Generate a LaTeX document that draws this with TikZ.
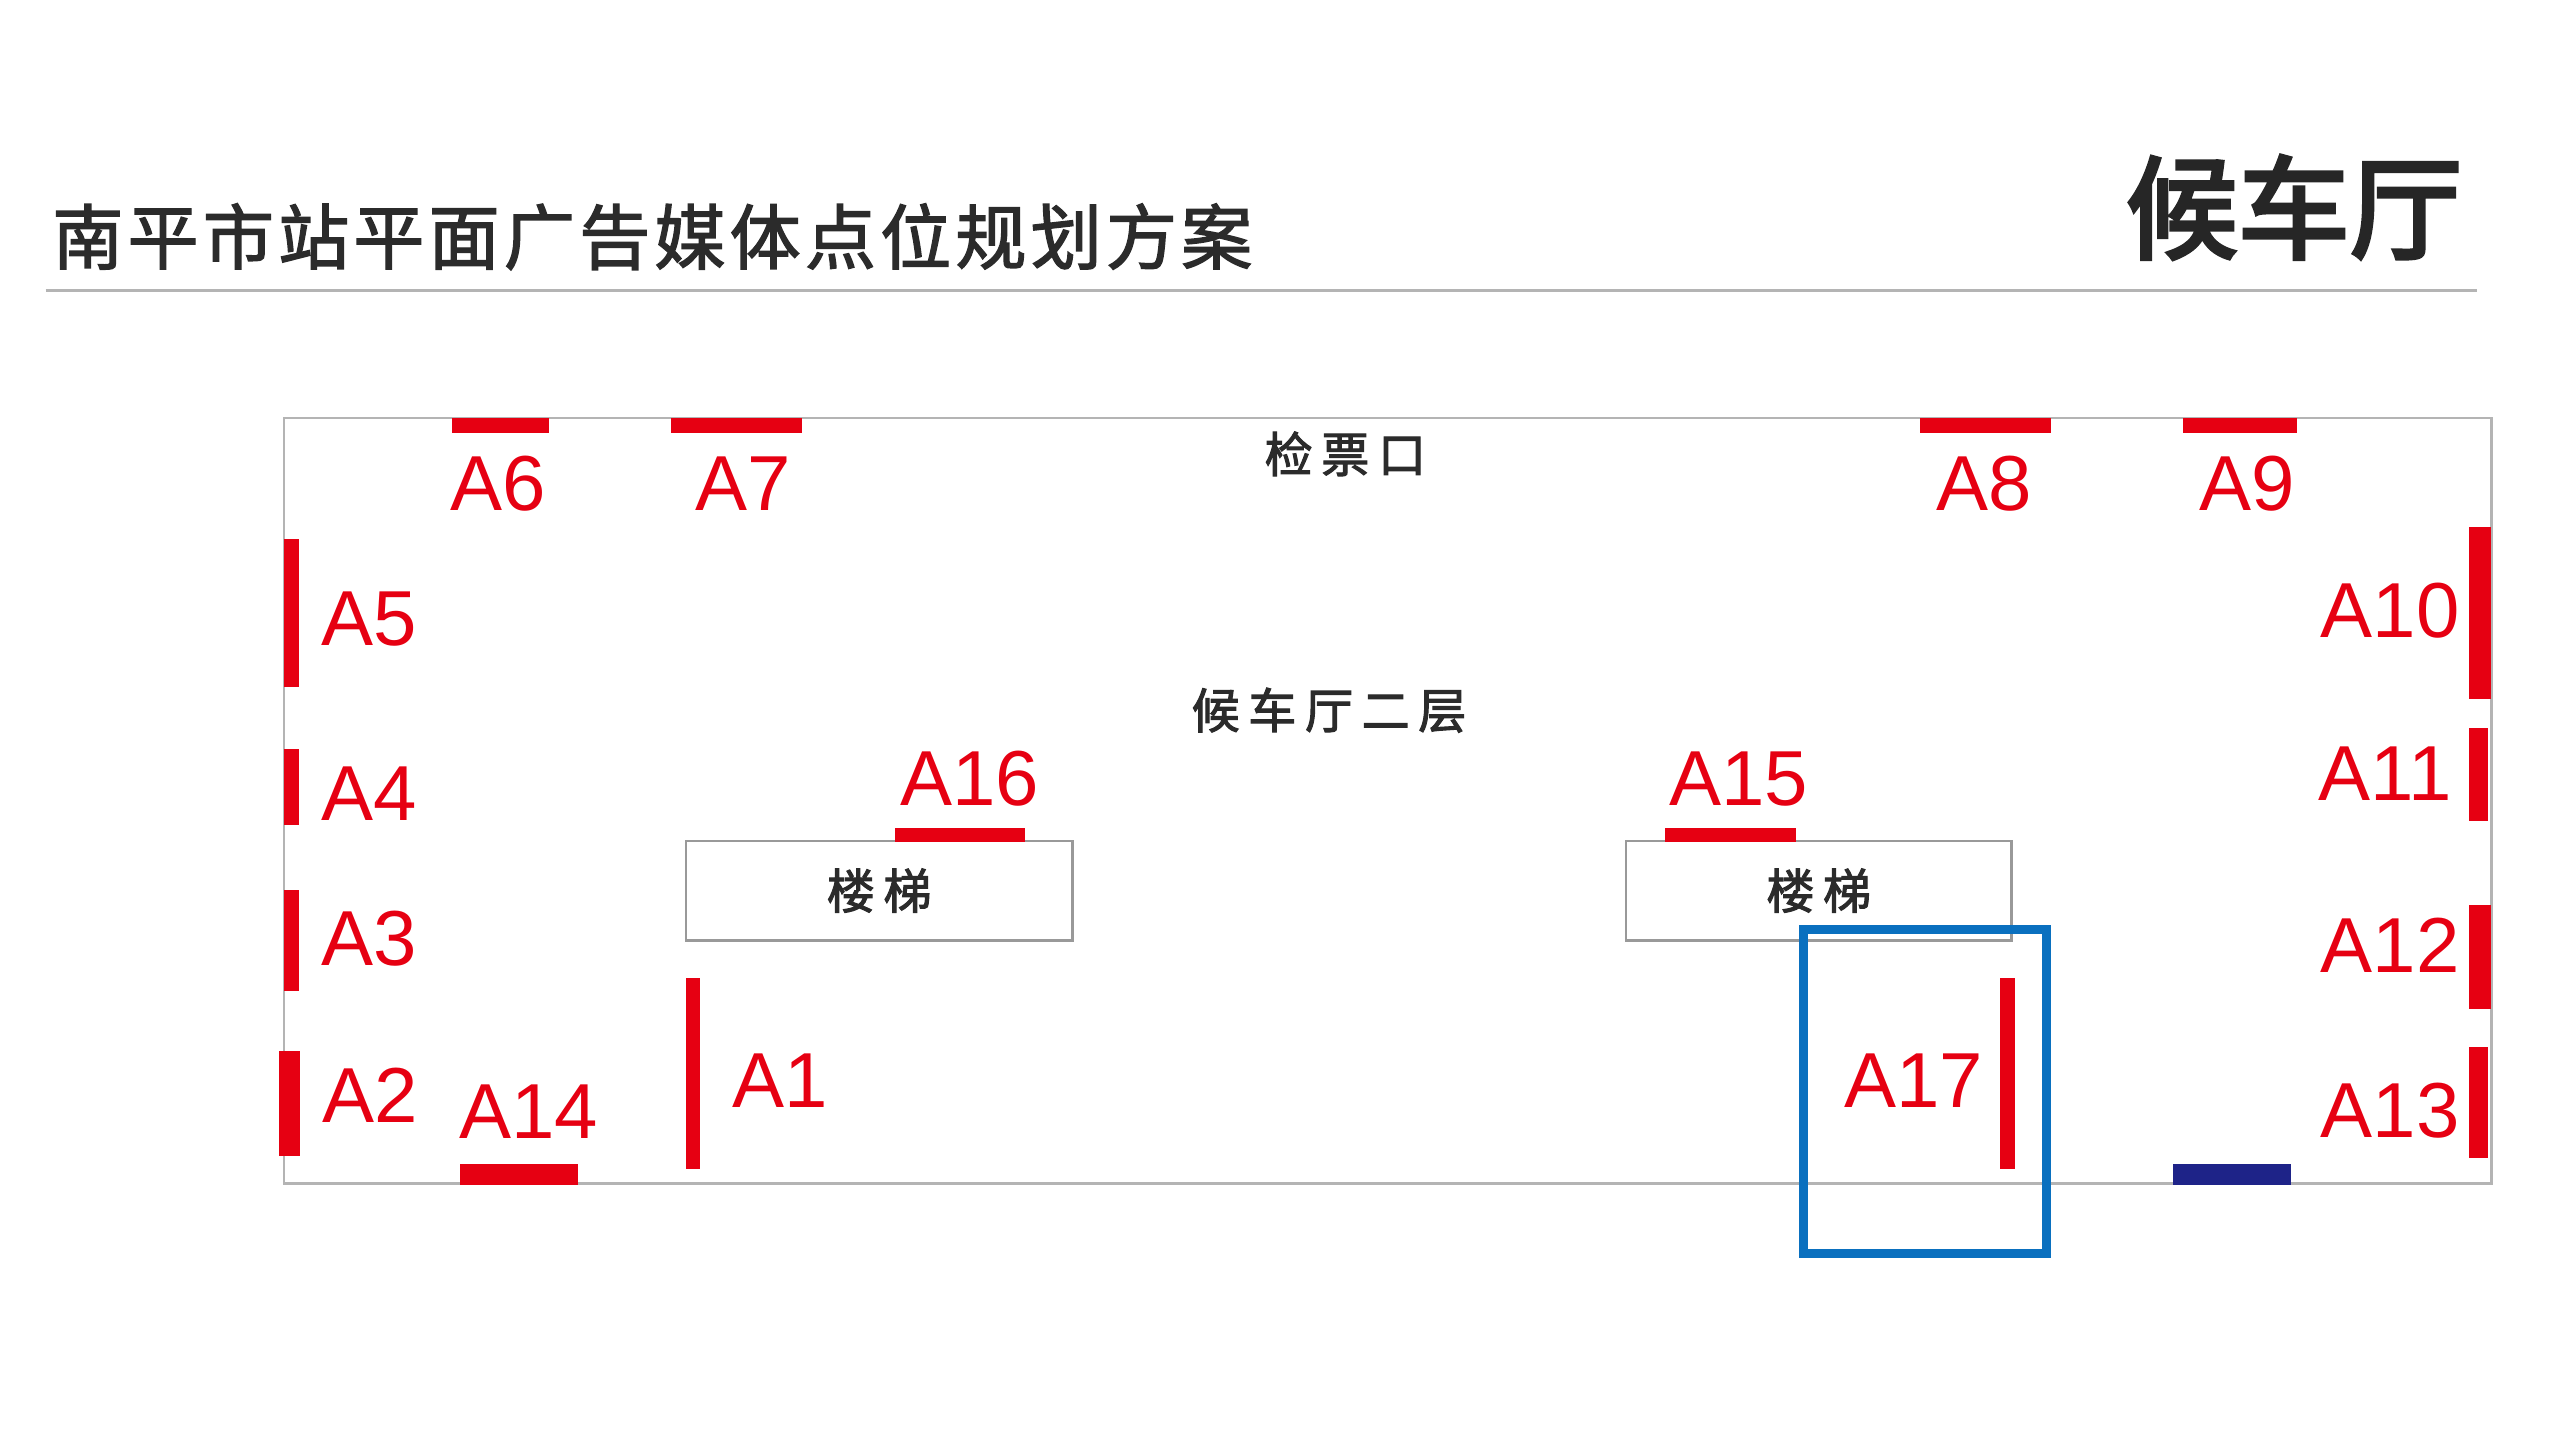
\documentclass[tikz,border=0pt]{standalone}
\usepackage{fontspec}
\setmainfont{Liberation Sans}
\newfontfamily\cjk[FakeBold=3.5]{Noto Sans CJK SC}
\newfontfamily\cjkwide[LetterSpace=18,FakeBold=2.2]{Noto Sans CJK SC}
\newfontfamily\cjktitle[LetterSpace=6,FakeBold=2]{Noto Sans CJK SC}
\definecolor{barred}{HTML}{E60012}
\definecolor{barnavy}{HTML}{1E2388}
\definecolor{markblue}{HTML}{0A70BF}
\definecolor{wallgray}{HTML}{B4B4B4}
\definecolor{inkgray}{HTML}{2B2B2B}
\tikzset{
	wall/.style={draw=wallgray,line width=2.6pt},
	stair/.style={draw=wallgray!85!black,line width=2.4pt},
	redbar/.style={fill=barred},
	lab/.style={text=barred,inner sep=0pt,font=\fontsize{78}{78}\selectfont},
	note/.style={text=inkgray,inner sep=0pt,font=\fontsize{48}{48}\cjkwide}
}
\begin{document}
\begin{tikzpicture}[x=1.6327pt,y=-1.6327pt,line join=miter]
	\useasboundingbox (0,0) rectangle (1568,882);
	\node[anchor=west,inner sep=0pt,text=inkgray,font=\fontsize{71}{71}\cjktitle] (plantitle) at (32,145) {南平市站平面广告媒体点位规划方案};
	\node[anchor=east,inner sep=0pt,text=black!85,font=\fontsize{112}{112}\cjk] (halltitle) at (1508,127) {候车厅};
	\draw[draw=wallgray,line width=3pt] (28,178)--(1517,178);
	\draw[wall] (174,256) rectangle (1526,725);
	\node[stair,draw,minimum width=237*1.6327pt,minimum height=61*1.6327pt,inner sep=0pt] (stairl) at (538.5,545.5) {};
	\node[stair,draw,minimum width=236*1.6327pt,minimum height=61*1.6327pt,inner sep=0pt] (stairr) at (1114,545.5) {};
	\node[note] at (stairl) {楼梯};
	\node[note] at (stairr) {楼梯};
	\node[note] (gate) at (824,278) {检票口};
	\node[note] (floor) at (814,435) {候车厅二层};
	\fill[redbar] (277,256) rectangle (336,265);
	\fill[redbar] (411,256) rectangle (491,265);
	\fill[redbar] (1176,256) rectangle (1256,265);
	\fill[redbar] (1337,256) rectangle (1407,265);
	\fill[redbar] (174,330) rectangle (183,421);
	\fill[redbar] (174,459) rectangle (183,505);
	\fill[redbar] (174,545) rectangle (183,607);
	\fill[redbar] (171,644) rectangle (184,708);
	\fill[redbar] (282,713) rectangle (354,726);
	\fill[redbar] (420,599) rectangle (429,716);
	\fill[redbar] (548,507) rectangle (628,516);
	\fill[redbar] (1020,507) rectangle (1100,516);
	\fill[redbar] (1225,599) rectangle (1234,716);
	\fill[redbar] (1512,323) rectangle (1526,428);
	\fill[redbar] (1512,446) rectangle (1524,503);
	\fill[redbar] (1512,554) rectangle (1526,618);
	\fill[redbar] (1512,641) rectangle (1524,709);
	\fill[barnavy] (1331,713) rectangle (1403,726);
	\node[lab] (a1) at (478,662) {A1};
	\node[lab] (a2) at (227,671) {A2};
	\node[lab] (a3) at (226,575) {A3};
	\node[lab] (a4) at (226,486) {A4};
	\node[lab] (a5) at (226,379) {A5};
	\node[lab] (a6) at (305,296) {A6};
	\node[lab] (a7) at (455,296) {A7};
	\node[lab] (a8) at (1215.5,296) {A8};
	\node[lab] (a9) at (1376.5,296) {A9};
	\node[lab] (a10) at (1464,374) {A10};
	\node[lab] (a11) at (1461,474) {A11};
	\node[lab] (a12) at (1464,579) {A12};
	\node[lab] (a13) at (1464,680) {A13};
	\node[lab] (a14) at (324,681) {A14};
	\node[lab] (a15) at (1065,477) {A15};
	\node[lab] (a16) at (594,477) {A16};
	\node[lab] (a17) at (1172,662) {A17};
	\draw[draw=markblue,line width=9pt] (1104.5,569.5) rectangle (1253.5,768);
\end{tikzpicture}
\end{document}
